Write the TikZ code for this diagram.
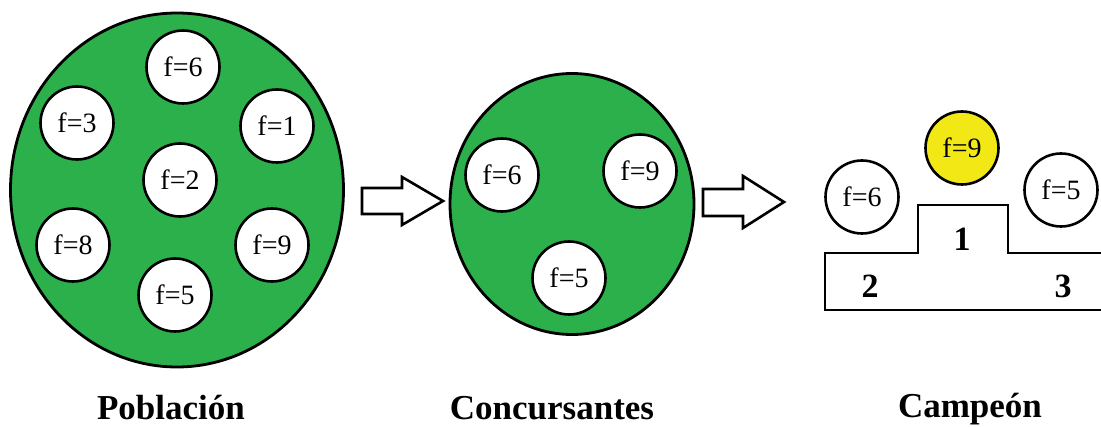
\documentclass[tikz,border=0pt]{standalone}
\usepackage{fontspec}
\setmainfont{Liberation Serif}
\usetikzlibrary{shapes.geometric}
\definecolor{popgreen}{RGB}{44,176,75}
\definecolor{champyellow}{RGB}{242,232,22}
\tikzset{
  indiv/.style={circle, draw=black, line width=2.6pt, fill=white, minimum size=73pt, inner sep=0pt,
    font=\fontsize{28}{30}\selectfont},
  group/.style={ellipse, draw=black, line width=2.8pt, fill=popgreen, inner sep=0pt},
  blockarrow/.style={draw=black, line width=2.6pt, fill=white, line join=miter},
  podium/.style={draw=black, line width=2.8pt, line join=miter},
  place/.style={font=\bfseries\fontsize{34}{36}\selectfont},
  caption/.style={font=\bfseries\fontsize{35}{38}\selectfont, anchor=base}
}
\begin{document}
\begin{tikzpicture}[x=1pt, y=-1pt]
\useasboundingbox (0,0) rectangle (1101,427);
% Poblacion
\node[group, minimum width=333pt, minimum height=354pt] (pop) at (177,190) {};
\node[indiv] (p6) at (183,67) {f=6};
\node[indiv] (p3) at (77,123) {f=3};
\node[indiv] (p1) at (277,126) {f=1};
\node[indiv] (p2) at (180,180) {f=2};
\node[indiv] (p8) at (73,245) {f=8};
\node[indiv] (p9) at (272,245) {f=9};
\node[indiv] (p5) at (175,295) {f=5};
% arrow 1
\draw[blockarrow] (362,188) -- (402,188) -- (402,177) -- (443,201) -- (402,225) -- (402,214) -- (362,214) -- cycle;
% Concursantes
\node[group, minimum width=244pt, minimum height=261pt] (conc) at (572,204) {};
\node[indiv] (c6) at (502,175) {f=6};
\node[indiv] (c9) at (640,171) {f=9};
\node[indiv] (c5) at (569,278) {f=5};
% arrow 2
\draw[blockarrow] (703,189) -- (743,189) -- (743,176) -- (784,202) -- (743,228) -- (743,216) -- (703,216) -- cycle;
% podium
\draw[podium] (1110,253) -- (1008,253) -- (1008,205) -- (918,205) -- (918,253) -- (825,253) -- (825,310) -- (1110,310);
\node[place] (n1) at (962,239) {1};
\node[place] (n2) at (870,286) {2};
\node[place] (n3) at (1063,286) {3};
\node[indiv] (w6) at (862,197) {f=6};
\node[indiv, fill=champyellow] (w9) at (962,148) {f=9};
\node[indiv] (w5) at (1061,190) {f=5};
% captions
\node[caption] (lpop) at (171,420) {Población};
\node[caption] (lconc) at (552,420) {Concursantes};
\node[caption] (lcamp) at (970,418) {Campeón};
\end{tikzpicture}
\end{document}
